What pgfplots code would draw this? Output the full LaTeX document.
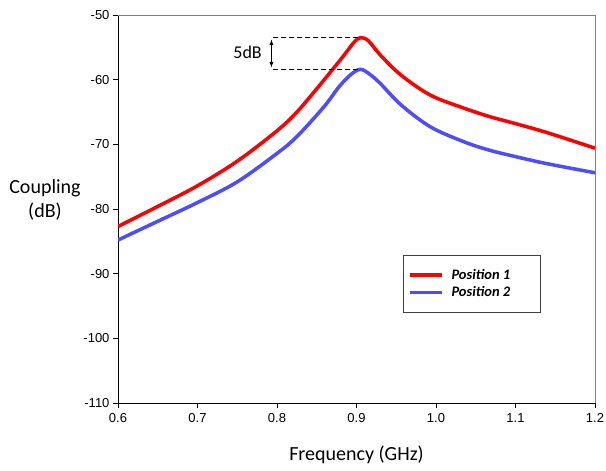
\documentclass[border=0pt]{standalone}
\usepackage{pgfplots}
\pgfplotsset{compat=1.18}
\usepackage{fontspec}
\setmainfont{Carlito}
\newfontfamily\arial{Liberation Sans}
\definecolor{myred}{RGB}{255,0,0}
\definecolor{myblue}{RGB}{77,77,255}
\begin{document}
\begin{tikzpicture}
\begin{axis}[
  scale only axis, width=477pt, height=388pt,
  xmin=0.6, xmax=1.2, ymin=-110, ymax=-50,
  clip mode=individual,
  axis lines*=left, axis line style={-, line width=0.8pt},
  xtick={0.6,0.7,0.8,0.9,1.0,1.1,1.2},
  ytick={-110,-100,-90,-80,-70,-60,-50},
  xticklabel style={/pgf/number format/fixed, /pgf/number format/fixed zerofill, /pgf/number format/precision=1, yshift=-2pt},
  tick align=outside, major tick length=5pt,
  tick style={black, line width=0.8pt},
  /pgf/number format/assume math mode=true,
  tick label style={font=\arial\fontsize{13}{13}\selectfont},
  legend style={at={(axis cs:0.958,-87.1)}, anchor=north west, draw=black!75, line width=0.8pt,
    font=\bfseries\itshape\fontsize{14.5}{17}\selectfont, inner xsep=5pt, inner ysep=12pt, row sep=1.5pt,
    cells={anchor=west}, /tikz/every odd column/.append style={column sep=6pt}},
  legend image code/.code={\draw[#1] (0pt,0pt) -- (32pt,0pt);},
]
\addplot[myred, line width=3.5pt, smooth, tension=0.55] coordinates {
(0.600,-82.7) (0.650,-79.6) (0.700,-76.4) (0.750,-72.6) (0.800,-67.9) (0.825,-65.0)
(0.850,-61.4) (0.870,-58.4) (0.885,-56.1) (0.897,-54.2) (0.905,-53.5) (0.915,-54.0) (0.930,-56.2)
(0.956,-59.3) (0.993,-62.4) (1.035,-64.4) (1.067,-65.7) (1.100,-66.8) (1.140,-68.2) (1.200,-70.6)};
\addlegendentry{\makebox[82pt][l]{Position 1}}
\addplot[myblue, line width=3.5pt, smooth, tension=0.55] coordinates {
(0.600,-84.8) (0.650,-81.9) (0.700,-79.0) (0.750,-75.8) (0.800,-71.4) (0.825,-68.8)
(0.859,-64.2) (0.878,-61.1) (0.893,-59.2) (0.905,-58.4) (0.917,-59.2) (0.930,-60.6)
(0.956,-63.9) (0.993,-67.3) (1.035,-69.6) (1.067,-70.9) (1.100,-71.9) (1.140,-73.0) (1.200,-74.4)};
\addlegendentry{\makebox[82pt][l]{Position 2}}
\draw[gray, line width=0.8pt] (rel axis cs:0,1) -- (rel axis cs:1,1) -- (rel axis cs:1,0);
\draw[dash pattern=on 5pt off 3pt, line width=1.5pt] (axis cs:0.795,-53.5) -- (axis cs:0.903,-53.5);
\draw[dash pattern=on 5pt off 3pt, line width=1.5pt] (axis cs:0.795,-58.4) -- (axis cs:0.905,-58.4);
\draw[<->, >=latex, line width=0.9pt] (axis cs:0.793,-53.8) -- (axis cs:0.793,-58.1);
\node[font=\fontsize{18}{18}\selectfont] at (axis cs:0.763,-55.7) {5dB};
\node[font=\fontsize{20}{24}\selectfont, align=center] at (rel axis cs:0,0.523) [xshift=-73pt] {Coupling\\(dB)};
\node[font=\fontsize{20}{24}\selectfont] at (rel axis cs:0.5,0) [yshift=-52pt] {Frequency (GHz)};
\coordinate (bl) at (rel axis cs:0,0);
\coordinate (tr) at (rel axis cs:1,1);
\end{axis}
\pgfresetboundingbox
\path ([shift={(-118pt,-67pt)}]bl) rectangle ([shift={(11pt,15pt)}]tr);
\end{tikzpicture}
\end{document}
